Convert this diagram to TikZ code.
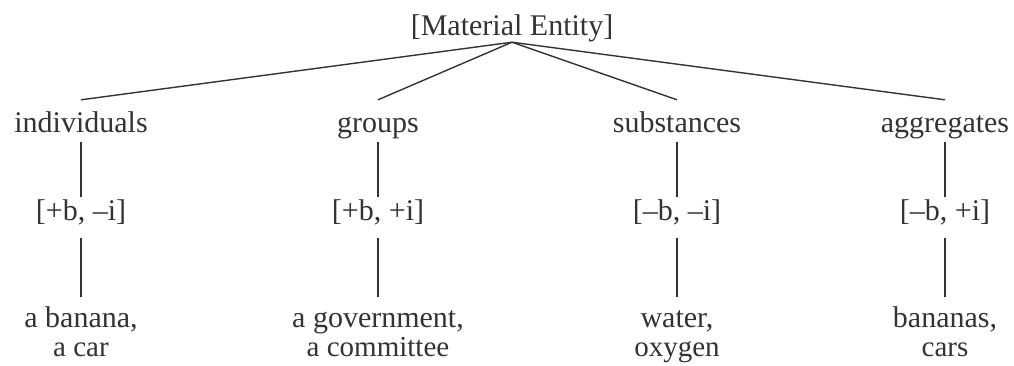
\documentclass[tikz,border=0pt]{standalone}
\usepackage{fontspec}
\setmainfont{Liberation Serif}
\definecolor{ink}{gray}{0.2}
\begin{document}
\begin{tikzpicture}[x=1pt,y=-1pt,
  every node/.style={font=\fontsize{30}{26}\selectfont, text=ink, inner sep=0pt},
  lbl/.style={anchor=base, text height=20pt, text depth=7pt},
  firstline/.style={anchor=base, text height=20pt, text depth=4pt},
  secondline/.style={anchor=base, text height=17pt, text depth=6pt,
    font=\fontsize{29}{26}\selectfont},
  link/.style={draw=ink, line width=1.4pt}]
\useasboundingbox (0,0) rectangle (1014,365);

% root
\node[lbl] (top) at (512,35) {[Material Entity]};

% categories
\node[lbl] (ind) at (81,132)  {individuals};
\node[lbl] (grp) at (378,132) {groups};
\node[lbl] (sub) at (677,132) {substances};
\node[lbl] (agg) at (945,132) {aggregates};

% feature bundles
\node[lbl] (f1) at (81,220)  {[+b, –i]};
\node[lbl] (f2) at (378,220) {[+b, +i]};
\node[lbl] (f3) at (677,220) {[–b, –i]};
\node[lbl] (f4) at (945,220) {[–b, +i]};

% examples, one node per printed line
\node[firstline]  (e1)  at (81,327)  {a banana,};
\node[secondline] (e1b) at (81,356)  {a car};
\node[firstline]  (e2)  at (378,327) {a government,};
\node[secondline] (e2b) at (378,356) {a committee};
\node[firstline]  (e3)  at (677,327) {water,};
\node[secondline] (e3b) at (677,356) {oxygen};
\node[firstline]  (e4)  at (945,327) {bananas,};
\node[secondline] (e4b) at (945,356) {cars};

% branches from the root
\foreach \n in {ind,grp,sub,agg}
  \draw[link] (top.south) -- ([yshift=12pt]\n.north);

% vertical links
\foreach \a/\b in {ind/f1,grp/f2,sub/f3,agg/f4}
  \draw[link, shorten <=3pt, shorten >=3pt] (\a.south) -- (\b.north);
\foreach \a/\b in {f1/e1,f2/e2,f3/e3,f4/e4}
  \draw[link, shorten <=11pt, shorten >=10pt] (\a.south) -- (\b.north);
\end{tikzpicture}
\end{document}
